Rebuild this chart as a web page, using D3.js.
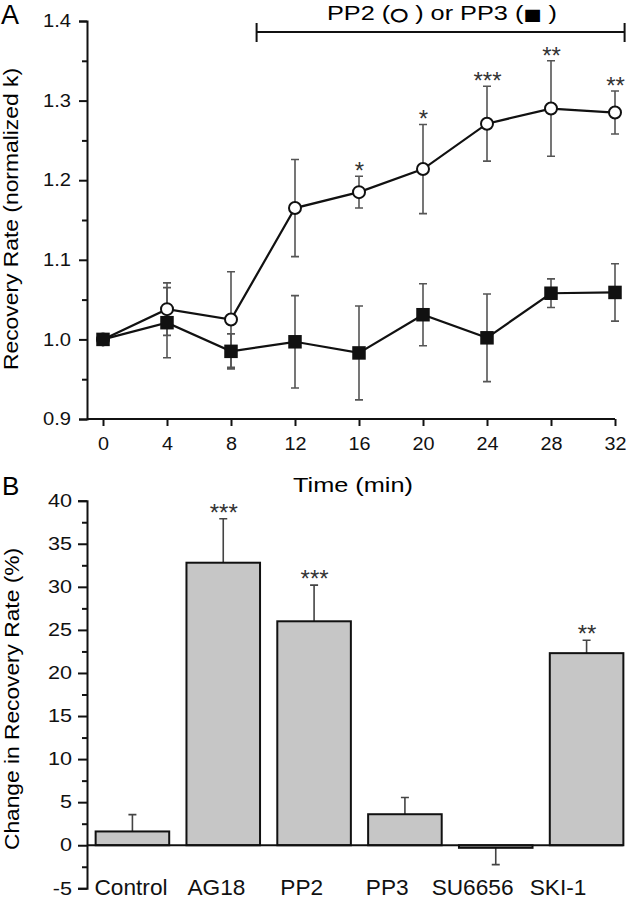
<!DOCTYPE html>
<html><head><meta charset="utf-8">
<script src="https://cdn.jsdelivr.net/npm/d3@7"></script>
<style>body{margin:0;background:#fff}svg{display:block;font-family:"Liberation Sans",Arial,sans-serif}</style>
</head><body><svg id="c" width="630" height="900"></svg>
<script>
// Panel A data
const times = [0,4,8,12,16,20,24,28,32];
const pp2Mean = [1.000,1.038,1.025,1.165,1.185,1.214,1.271,1.290,1.285];
const pp2Err  = [0.000,0.033,0.060,0.061,0.020,0.056,0.047,0.060,0.027];
const pp3Mean = [1.000,1.021,0.985,0.997,0.983,1.031,1.002,1.058,1.059];
const pp3Err  = [0.000,0.044,0.022,0.058,0.059,0.039,0.055,0.018,0.036];
const pp2Stars = ["","","","","*","*","***","**","**"];
const yTicksA = [0.9,1.0,1.1,1.2,1.3,1.4];
// Panel B data
const groups = ["Control","AG18","PP2","PP3","SU6656","SKI-1"];
const changeMean = [1.6,32.8,26.0,3.6,-0.3,22.3];
const changeErr  = [1.95,5.1,4.2,1.95,1.95,1.5];
const changeStars = ["","***","***","","","**"];
const yTicksB = [-5,0,5,10,15,20,25,30,35,40];

const svg = d3.select("#c");
const F = "Liberation Sans, Arial, sans-serif";
function stretch(sel,k){
  sel.each(function(){
    const w=this.getComputedTextLength();
    this.setAttribute("textLength", w*k);
    this.setAttribute("lengthAdjust","spacingAndGlyphs");
  });
}
function styleAxis(a, fs, k){
  a.selectAll("path,line").attr("stroke","#111").attr("stroke-width",2);
  const t = a.selectAll("text").attr("font-size",fs).attr("font-family",F).attr("fill","#111");
  if (k) stretch(t,k);
}

// ---------- Panel A ----------
const xA = d3.scaleLinear().domain([0,32]).range([103,615]);
const yA = d3.scaleLinear().domain([0.9,1.4]).range([419,21]);
const gA = svg.append("g");

const yAxA = gA.append("g").attr("transform","translate(87,0)")
  .call(d3.axisLeft(yA).tickValues(yTicksA).tickFormat(d3.format(".1f")).tickSize(8).tickPadding(8));
const yMinA = gA.append("g").attr("transform","translate(87,0)")
  .call(d3.axisLeft(yA).tickValues(d3.range(0.95,1.4,0.1)).tickFormat("").tickSize(5));
yMinA.select(".domain").remove();
const xAxA = gA.append("g").attr("transform","translate(0,419)")
  .call(d3.axisBottom(xA).tickValues(times).tickSize(7).tickPadding(11));
xAxA.select(".domain").attr("d","M87,0H615");
styleAxis(yAxA,18,1.12); styleAxis(yMinA,17); styleAxis(xAxA,18,1.1);

gA.append("text").attr("x",353).attr("y",492).attr("text-anchor","middle")
  .attr("font-size",21).attr("font-family",F).attr("textLength",120).attr("lengthAdjust","spacingAndGlyphs")
  .text("Time (min)");
gA.append("text").attr("transform","translate(18,219) rotate(-90)").attr("text-anchor","middle")
  .attr("font-size",20).attr("font-family",F).attr("textLength",302).attr("lengthAdjust","spacingAndGlyphs")
  .text("Recovery Rate (normalized k)");
gA.append("text").attr("x",1).attr("y",24).attr("font-size",27).attr("font-family",F).text("A");

// bracket
gA.append("path").attr("d",`M${xA(9.6)},32H${xA(32.6)}M${xA(9.6)},23V42M${xA(32.6)},23V42`)
  .attr("stroke","#111").attr("stroke-width",2).attr("fill","none");
const lab = gA.append("text").attr("x",442).attr("y",20).attr("text-anchor","middle")
  .attr("font-size",21).attr("font-family",F).attr("textLength",230).attr("lengthAdjust","spacingAndGlyphs");
lab.append("tspan").text("PP2 (");
lab.append("tspan").attr("font-family","DejaVu Sans").attr("font-size",17).attr("stroke","#000").attr("stroke-width",0.8).text("\u25CB");
lab.append("tspan").text(" ) or PP3 (");
lab.append("tspan").attr("font-family","DejaVu Sans").attr("font-size",16).text("\u25A0");
lab.append("tspan").text(" )");

function errBars(g, means, errs){
  const d = times.map((t,i)=>({t,m:means[i],e:errs[i]})).filter(o=>o.e>0);
  const s = g.append("g").attr("stroke","#555").attr("stroke-width",1.6).attr("fill","none");
  s.selectAll("path").data(d).join("path")
   .attr("d",o=>`M${xA(o.t)},${yA(o.m+o.e)}V${yA(o.m-o.e)}M${xA(o.t)-4},${yA(o.m+o.e)}h8M${xA(o.t)-4},${yA(o.m-o.e)}h8`);
}
errBars(gA, pp3Mean, pp3Err);
errBars(gA, pp2Mean, pp2Err);

const line = d3.line().x((d,i)=>xA(times[i])).y(d=>yA(d));
gA.append("path").datum(pp2Mean).attr("d",line).attr("fill","none").attr("stroke","#111").attr("stroke-width",2.2);
gA.append("path").datum(pp3Mean).attr("d",line).attr("fill","none").attr("stroke","#111").attr("stroke-width",2.2);

gA.append("g").selectAll("circle").data(pp2Mean).join("circle")
  .attr("cx",(d,i)=>xA(times[i])).attr("cy",d=>yA(d)).attr("r",6)
  .attr("fill","#fff").attr("stroke","#111").attr("stroke-width",2);
gA.append("g").selectAll("rect").data(pp3Mean).join("rect")
  .attr("x",(d,i)=>xA(times[i])-6.75).attr("y",d=>yA(d)-6.75).attr("width",13.5).attr("height",13.5)
  .attr("fill","#111");

gA.append("g").selectAll("text").data(pp2Stars.map((s,i)=>({s,i})).filter(o=>o.s)).join("text")
  .attr("x",o=>xA(times[o.i])+0.5).attr("y",o=>yA(pp2Mean[o.i]+pp2Err[o.i])+3)
  .attr("text-anchor","middle").attr("font-size",24).attr("font-family",F)
  .attr("fill","#333").text(o=>o.s);

// ---------- Panel B ----------
const xB = d3.scaleBand().domain(groups).range([87,632]).paddingInner(0.19).paddingOuter(0.095);
const xLab = d3.scalePoint().domain(groups).range([131,558]);
const yB = d3.scaleLinear().domain([-5,40]).range([888.3,500.7]);
const gB = svg.append("g");

const yAxB = gB.append("g").attr("transform","translate(87,0)")
  .call(d3.axisLeft(yB).tickValues(yTicksB).tickFormat(d=>String(d)).tickSize(9).tickPadding(6));
const yMinB = gB.append("g").attr("transform","translate(87,0)")
  .call(d3.axisLeft(yB).tickValues(d3.range(-2.5,40,5)).tickFormat("").tickSize(5));
yMinB.select(".domain").remove();
styleAxis(yAxB,18,1.2); styleAxis(yMinB,17);

gB.append("g").attr("stroke","#444").attr("stroke-width",1.6).attr("fill","none")
  .selectAll("path").data(groups).join("path")
  .attr("d",(g,i)=>{
    const cx = xB(g)+xB.bandwidth()/2;
    const m = changeMean[i], e = changeErr[i];
    const end = m>=0 ? m+e : m-e;
    return `M${cx},${yB(m)}V${yB(end)}M${cx-4},${yB(end)}h8`;
  });

gB.append("g").selectAll("rect").data(groups).join("rect")
  .attr("x",g=>xB(g)).attr("width",xB.bandwidth())
  .attr("y",(g,i)=>yB(Math.max(0,changeMean[i])))
  .attr("height",(g,i)=>Math.abs(yB(changeMean[i])-yB(0)))
  .attr("fill","#c6c6c6").attr("stroke","#111").attr("stroke-width",2);

gB.append("line").attr("x1",87).attr("x2",xB("SKI-1")+xB.bandwidth()).attr("y1",yB(0)).attr("y2",yB(0))
  .attr("stroke","#111").attr("stroke-width",2);

gB.append("g").selectAll("text").data(groups.map((g,i)=>({g,i})).filter(o=>changeStars[o.i])).join("text")
  .attr("x",o=>xB(o.g)+xB.bandwidth()/2+0.5).attr("y",o=>yB(changeMean[o.i]+changeErr[o.i])+2)
  .attr("text-anchor","middle").attr("font-size",24).attr("font-family",F)
  .attr("fill","#333").text(o=>changeStars[o.i]);

stretch(gB.append("g").selectAll("text").data(groups).join("text")
  .attr("x",g=>xLab(g)).attr("y",895).attr("text-anchor","middle")
  .attr("font-size",22).attr("font-family",F).attr("fill","#111").text(g=>g), 1.03);

gB.append("text").attr("transform","translate(19,699) rotate(-90)").attr("text-anchor","middle")
  .attr("font-size",20).attr("font-family",F).attr("textLength",302).attr("lengthAdjust","spacingAndGlyphs")
  .text("Change in Recovery Rate (%)");
gB.append("text").attr("x",2).attr("y",495).attr("font-size",26).attr("font-family",F).text("B");
</script></body></html>
